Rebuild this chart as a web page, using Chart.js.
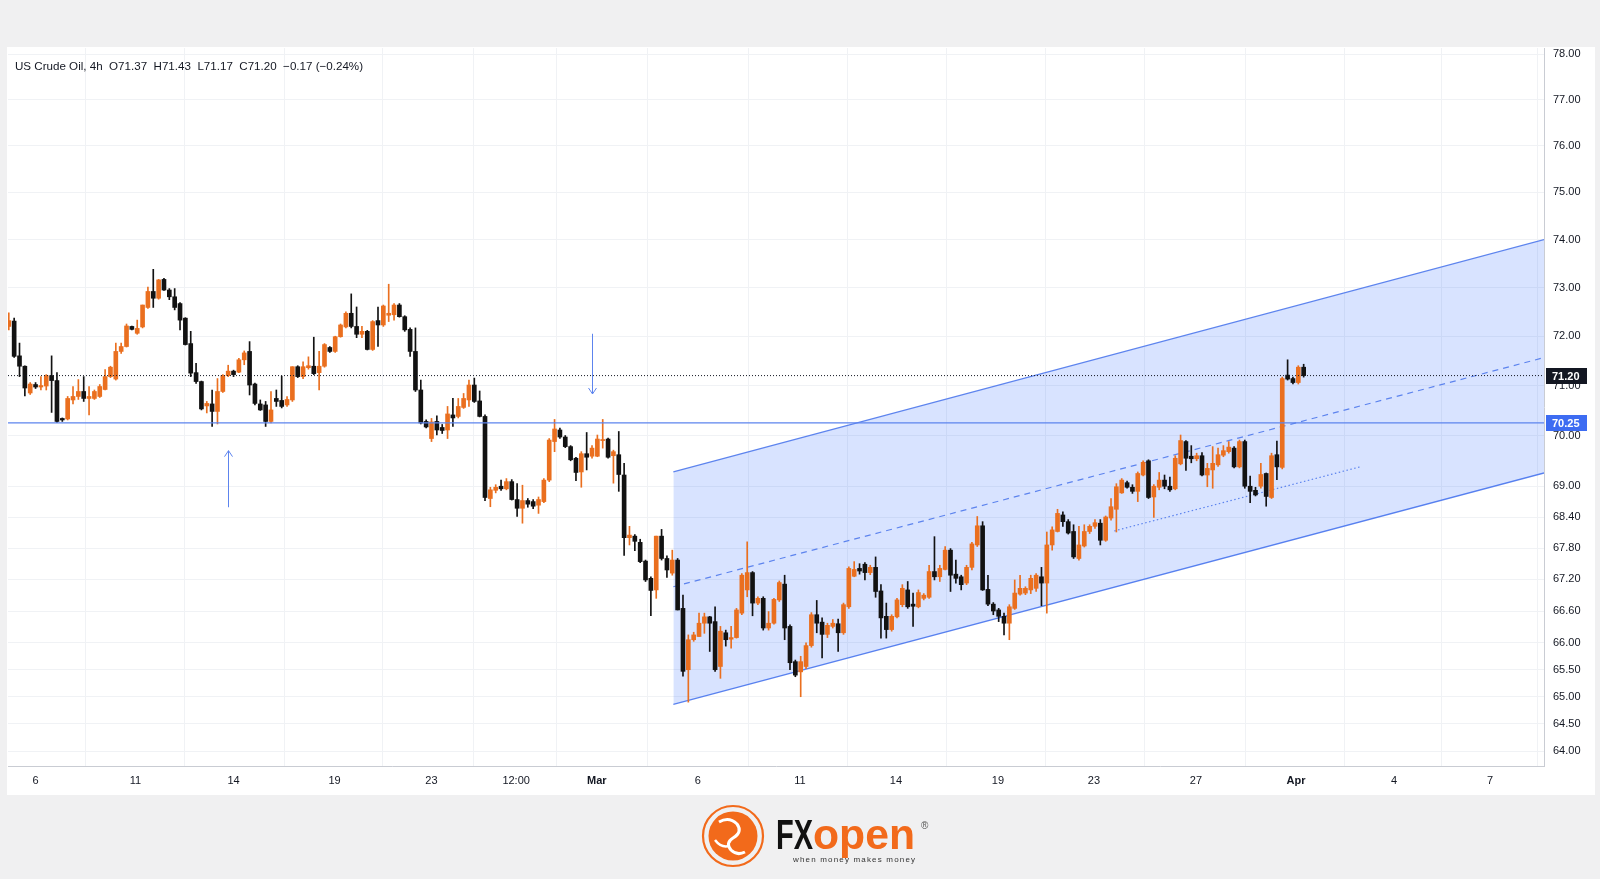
<!DOCTYPE html>
<html>
<head>
<meta charset="utf-8">
<script src="https://cdn.jsdelivr.net/npm/chart.js@4.4.1/dist/chart.umd.min.js"></script>
<style>
  html, body { margin: 0; padding: 0; width: 1600px; height: 879px; overflow: hidden; background: #f0f0f1; }
  #panel { position: absolute; left: 7px; top: 47px; width: 1588px; height: 748px; background: #ffffff; }
  #chart { position: absolute; left: 0; top: 0; }
  #title { position: absolute; left: 15px; top: 59px; font: 11.6px "Liberation Sans", Arial, sans-serif; color: #131722; white-space: pre; }
  #logo { position: absolute; left: 695px; top: 800px; }
</style>
</head>
<body>
<div id="panel"></div>
<canvas id="chart" width="1600" height="879"></canvas>
<div id="title">US Crude Oil, 4h  O71.37  H71.43  L71.17  C71.20  −0.17 (−0.24%)</div>
<svg id="logo" width="250" height="79" viewBox="0 0 250 79">
  <circle cx="38" cy="36" r="30" fill="none" stroke="#f26a1b" stroke-width="2.2"/>
  <circle cx="38" cy="36" r="24.5" fill="#f26a1b"/>
  <path d="M24 22 q10 -6 18 2 q6 8 -4 14 q-8 5 -2 12 q6 6 14 2" fill="none" stroke="#fff" stroke-width="3"/>
  <path d="M20 40 q6 8 14 6" fill="none" stroke="#fff" stroke-width="2.5"/>
  <text x="81" y="49" font-family="Liberation Sans, Arial, sans-serif" font-weight="bold" font-size="42" textLength="37" lengthAdjust="spacingAndGlyphs" fill="#111">FX</text>
  <text x="118" y="49" font-family="Liberation Sans, Arial, sans-serif" font-weight="bold" font-size="42" textLength="102" lengthAdjust="spacingAndGlyphs" fill="#f26a1b">open</text>
  <text x="226" y="29" font-family="Liberation Sans, Arial, sans-serif" font-size="10" fill="#555">®</text>
  <text x="98" y="62" font-family="Liberation Sans, Arial, sans-serif" font-size="8" textLength="122" lengthAdjust="spacing" fill="#333">when money   makes money</text>
</svg>
<script>
// ---- data (4h candles, oldest first) ----
const openP = [72.20,72.31,71.60,71.39,70.85,71.02,70.97,70.99,71.20,71.10,70.34,70.33,70.71,70.78,70.88,70.74,70.74,70.78,70.92,71.18,
  71.13,71.69,71.79,72.20,72.06,72.19,72.59,72.92,72.78,73.17,72.95,72.81,72.67,72.37,71.85,71.26,71.08,70.59,70.63,70.48,
  70.88,71.20,71.29,71.27,71.52,71.69,71.03,70.63,70.61,70.28,70.74,70.70,70.61,70.71,71.38,71.18,71.36,71.39,71.26,71.39,
  71.77,71.69,71.99,72.19,72.47,72.20,72.04,72.10,71.73,72.32,72.23,72.43,72.44,72.64,72.40,72.14,71.69,70.91,70.28,69.94,
  70.28,70.16,70.11,70.41,70.38,70.56,70.71,71.01,70.69,70.38,68.76,68.92,69.00,68.95,69.09,68.74,68.57,68.72,68.70,68.63,
  68.70,69.12,69.88,70.11,69.97,69.78,69.55,69.28,69.64,69.59,69.59,69.90,69.93,69.60,69.62,69.22,68.00,68.03,67.91,67.55,
  67.22,67.00,68.03,67.60,67.32,67.57,66.65,65.50,66.06,66.12,66.37,66.49,66.40,65.56,66.19,66.07,66.10,66.56,67.00,67.33,
  66.75,66.84,66.28,66.37,66.81,67.11,66.31,65.65,65.46,65.56,65.95,66.53,66.39,66.16,66.31,66.36,66.19,66.68,67.26,67.41,
  67.49,67.33,67.43,66.98,66.50,66.25,66.49,66.72,67.00,66.73,66.68,66.84,66.86,67.35,67.25,67.39,67.76,67.30,67.25,67.13,
  67.43,67.86,68.23,67.01,66.73,66.62,66.50,66.37,66.65,66.92,66.94,67.00,67.03,67.25,67.13,67.86,68.12,68.44,68.31,68.12,
  67.60,67.84,68.12,68.22,68.28,67.95,68.38,68.55,68.87,69.07,68.98,68.90,69.22,69.50,68.79,68.98,69.12,69.00,68.95,69.44,
  69.88,69.59,69.54,69.60,69.22,69.32,69.42,69.61,69.68,69.75,69.38,69.88,69.00,68.92,69.00,69.25,68.78,69.62,69.37,71.21,
  71.14,71.06,71.37];
const highP = [72.48,72.37,71.86,71.40,71.06,71.06,71.18,71.22,71.60,71.26,70.35,70.78,70.98,71.12,71.18,70.98,70.91,71.02,71.32,71.39,
  71.86,71.86,72.25,72.21,72.33,72.64,73.01,73.38,73.17,73.19,72.98,72.98,72.69,72.38,72.10,71.45,71.09,70.68,70.91,71.14,
  71.22,71.41,71.31,71.55,71.70,71.89,71.05,70.71,70.68,70.88,70.91,71.19,70.78,71.38,71.40,71.48,71.58,71.98,71.69,71.85,
  71.79,72.00,72.25,72.50,72.87,72.60,72.20,72.12,72.32,72.60,72.64,73.07,72.67,72.67,72.42,72.17,72.17,71.11,70.31,70.34,
  70.39,70.22,70.58,70.74,70.74,70.84,71.11,71.15,70.89,70.41,68.98,69.03,69.12,69.15,69.13,69.05,69.02,68.76,68.74,68.79,
  69.15,69.94,70.32,70.15,70.00,69.80,69.57,69.68,70.06,69.80,70.01,70.32,69.95,69.71,70.08,69.45,68.22,68.06,67.97,67.57,
  67.25,68.03,68.16,67.65,67.76,67.60,66.90,66.15,66.20,66.56,66.56,66.50,66.68,66.31,66.24,66.31,66.65,67.31,67.92,67.35,
  66.87,66.87,66.59,66.84,67.17,67.28,66.34,65.68,65.75,66.00,66.57,66.80,66.47,66.37,66.44,66.45,66.75,67.44,67.54,67.50,
  67.52,67.47,67.63,67.10,66.75,66.53,66.84,67.10,67.16,66.94,67.00,66.93,67.47,68.02,67.47,67.83,67.79,67.57,67.28,67.47,
  67.91,68.41,68.31,67.28,66.76,66.65,66.56,66.72,67.19,67.28,67.06,67.28,67.31,67.43,68.11,68.21,68.55,68.50,68.35,68.25,
  68.22,68.25,68.25,68.35,68.35,68.42,68.76,69.05,69.15,69.10,69.03,69.28,69.50,69.52,69.03,69.27,69.22,69.18,69.60,70.01,
  69.90,69.80,69.65,69.66,69.45,69.78,69.75,69.80,69.88,69.78,69.91,69.91,69.20,68.98,69.45,69.26,69.65,69.89,71.17,71.52,
  71.17,71.40,71.43];
const lowP = [72.13,71.57,71.18,70.79,70.82,70.94,70.91,70.91,70.46,70.26,70.28,70.31,70.63,70.72,70.68,70.41,70.72,70.76,70.91,71.16,
  71.11,71.65,71.78,72.13,72.04,72.17,72.57,72.59,72.76,72.94,72.75,72.54,72.13,71.82,71.18,71.04,70.51,70.45,70.18,70.23,
  70.86,71.18,71.18,71.26,71.42,70.81,70.61,70.50,70.18,70.25,70.58,70.55,70.58,70.68,71.16,71.14,71.33,71.22,70.91,71.37,
  71.67,71.67,71.98,72.17,72.17,71.97,71.97,71.72,71.71,71.79,72.20,72.30,72.33,72.39,72.10,71.59,70.88,70.23,70.15,69.88,
  70.01,70.04,69.94,70.18,70.35,70.54,70.58,70.66,70.37,68.72,68.60,68.87,68.92,68.93,68.73,68.41,68.28,68.59,68.56,68.47,
  68.68,69.09,69.68,69.94,69.76,69.50,69.11,68.98,69.32,69.55,69.58,69.75,69.55,69.06,68.90,67.66,67.86,67.75,67.52,67.16,
  66.51,66.84,67.57,67.24,67.28,66.62,65.38,64.90,66.03,66.12,66.18,65.84,65.47,65.34,65.94,65.90,66.09,66.53,66.87,66.51,
  66.72,66.24,66.24,66.35,66.78,66.06,65.50,65.37,65.00,65.52,65.92,66.19,65.72,66.10,66.28,65.84,66.16,66.65,67.25,67.30,
  67.19,67.29,66.86,66.09,66.09,66.22,66.47,66.68,66.65,66.31,66.66,66.81,66.84,67.19,67.16,67.38,66.97,67.13,67.00,67.10,
  67.38,67.83,66.99,66.70,66.53,66.40,66.15,66.06,66.63,66.90,66.91,66.93,66.97,66.70,66.56,67.76,68.11,68.22,68.07,67.60,
  67.57,67.82,68.08,68.18,67.86,67.93,68.34,68.11,68.86,68.96,68.86,68.70,69.20,68.76,68.39,68.93,68.95,68.90,68.93,69.42,
  69.31,69.46,69.50,69.20,68.99,68.96,69.39,69.58,69.65,69.36,69.36,68.96,68.68,68.81,68.96,68.61,68.76,69.13,69.34,71.11,
  71.03,71.03,71.17];
const closeP = [72.32,71.59,71.39,70.95,71.03,70.97,71.00,71.20,71.10,70.28,70.31,70.74,70.78,70.88,70.74,70.78,70.88,70.98,71.18,71.37,
  71.69,71.79,72.21,72.14,72.16,72.64,72.92,72.78,73.16,72.95,72.81,72.59,72.33,71.83,71.25,71.08,70.53,70.64,70.48,70.88,
  71.20,71.29,71.22,71.52,71.66,71.01,70.64,70.51,70.28,70.51,70.68,70.58,70.72,71.38,71.18,71.38,71.40,71.24,71.39,71.83,
  71.69,71.99,72.23,72.47,72.20,72.04,72.10,71.73,72.30,72.23,72.62,72.47,72.64,72.40,72.13,71.69,70.91,70.25,70.17,70.27,
  70.11,70.10,70.43,70.35,70.58,70.74,71.01,70.68,70.38,68.78,68.93,68.98,68.95,69.09,68.74,68.57,68.72,68.65,68.61,68.74,
  69.12,69.91,70.13,69.97,69.78,69.52,69.27,69.64,69.57,69.75,69.93,69.92,69.57,69.68,69.23,68.00,68.05,67.93,67.54,67.19,
  66.99,68.03,67.60,67.38,67.57,66.62,65.47,66.06,66.15,66.37,66.49,66.37,65.50,66.22,66.06,66.10,66.62,67.28,67.33,66.75,
  66.84,66.28,66.37,66.82,67.14,66.28,65.63,65.40,65.65,65.95,66.53,66.37,66.16,66.33,66.37,66.19,66.72,67.41,67.39,67.36,
  67.33,67.43,66.97,66.47,66.25,66.50,66.81,67.03,66.68,66.69,66.95,66.90,67.35,67.25,67.41,67.76,67.28,67.22,67.10,67.43,
  67.88,68.23,67.00,66.73,66.60,66.50,66.37,66.68,66.94,67.03,67.03,67.22,67.28,67.13,67.86,68.15,68.47,68.31,68.09,67.63,
  67.86,68.12,68.22,68.29,67.95,68.40,68.60,68.99,69.12,68.98,68.90,69.25,69.47,68.78,69.00,69.12,69.00,68.93,69.55,69.90,
  69.55,69.54,69.60,69.22,69.35,69.45,69.62,69.70,69.77,69.38,69.88,69.00,68.90,68.83,69.23,68.80,69.60,69.38,71.14,71.13,
  71.06,71.37,71.20];

const xTickPos = [4.99, 23.68, 42.0, 60.88, 78.99, 94.82, 109.9, 128.79, 147.85, 165.8, 184.86, 202.8, 221.87, 240.56, 258.88, 276.82];
const xTickLabels = ['6', '11', '14', '19', '23', '12:00', 'Mar', '6', '11', '14', '19', '23', '27', 'Apr', '4', '7'];
const yTicks = [64, 64.5, 65, 65.5, 66, 66.6, 67.2, 67.8, 68.4, 69, 70, 71, 72, 73, 74, 75, 76, 77, 78];

// drawings
const channelX = [124.2, 286.92];
const channelUpper = [69.28, 74.0];
const channelLower = [64.86, 69.26];
const channelMidX = [124.2, 286.4];
const channelMid = [67.06, 71.55];
const trendX = [206.6, 252.9];
const trendY = [68.13, 69.39];
const supportLevel = 70.25;
const lastPrice = 71.20;
const arrowX = [41.05, 108.93];
const arrowFrom = [68.59, 72.05];
const arrowTo = [69.70, 70.83];

const X_MIN = -0.15, X_MAX = 286.92;
const Y_MIN = 63.735, Y_MAX = 78.135;

const UP = "#ea6f1f";
const DOWN = "#121212";
const BLUE = "#5d84ee";
const AXIS_FONT = "'Liberation Sans', Arial, sans-serif";

// ---- datasets ----
const wickData = highP.map((h, i) => ({ x: i, y: [lowP[i], h] }));
const bodyData = openP.map((o, i) => ({ x: i, y: [o, closeP[i]] }));
const candleColor = (ctx) => (closeP[ctx.dataIndex] >= openP[ctx.dataIndex] ? UP : DOWN);

function seg(xs, ys) {
  return xs.map((x, i) => ({ x, y: ys[i] }));
}

const overlayPlugin = {
  id: "overlay",
  afterDatasetsDraw(chart) {
    const { ctx, scales } = chart;
    const x = scales.x, y = scales.y;
    ctx.save();
    ctx.strokeStyle = BLUE;
    ctx.lineWidth = 1;
    arrowX.forEach((ax, i) => {
      const px = Math.round(x.getPixelForValue(ax)) + 0.5;
      const y1 = y.getPixelForValue(arrowFrom[i]);
      const y2 = y.getPixelForValue(arrowTo[i]);
      const dir = y2 < y1 ? 1 : -1;
      ctx.beginPath();
      ctx.moveTo(px, y1);
      ctx.lineTo(px, y2);
      ctx.moveTo(px - 4, y2 + dir * 6);
      ctx.lineTo(px, y2);
      ctx.lineTo(px + 4, y2 + dir * 6);
      ctx.stroke();
    });
    ctx.restore();
  },
  afterDraw(chart) {
    const { ctx, chartArea, scales } = chart;
    const y = scales.y;
    const tags = [
      { v: lastPrice, bg: "#131722" },
      { v: supportLevel, bg: "#3d6cf2" },
    ];
    ctx.save();
    tags.forEach((t) => {
      const py = Math.round(y.getPixelForValue(t.v));
      ctx.fillStyle = t.bg;
      ctx.fillRect(chartArea.right + 2, py - 8, 41, 16);
      ctx.fillStyle = "#ffffff";
      ctx.font = "bold 11px " + AXIS_FONT;
      ctx.textBaseline = "middle";
      ctx.textAlign = "left";
      ctx.fillText(t.v.toFixed(2), chartArea.right + 8, py + 0.5);
    });
    ctx.restore();
  },
};

new Chart(document.getElementById("chart"), {
  type: "bar",
  data: {
    datasets: [
      {
        type: "line",
        data: seg(channelX, channelUpper),
        borderColor: BLUE,
        borderWidth: 1.3,
        backgroundColor: "rgba(41, 98, 255, 0.18)",
        fill: "+1",
        pointRadius: 0,
        order: 10,
      },
      {
        type: "line",
        data: seg(channelX, channelLower),
        borderColor: BLUE,
        borderWidth: 1.3,
        fill: false,
        pointRadius: 0,
        order: 10,
      },
      {
        type: "line",
        data: seg(channelMidX, channelMid),
        borderColor: BLUE,
        borderWidth: 1.2,
        borderDash: [6, 5],
        fill: false,
        pointRadius: 0,
        order: 9,
      },
      {
        type: "line",
        data: seg(trendX, trendY),
        borderColor: BLUE,
        borderWidth: 1.2,
        borderDash: [1.5, 2.5],
        fill: false,
        pointRadius: 0,
        order: 9,
      },
      {
        type: "bar",
        data: wickData,
        backgroundColor: candleColor,
        barThickness: 1,
        grouped: false,
        order: 2,
      },
      {
        type: "bar",
        data: bodyData,
        backgroundColor: candleColor,
        barThickness: 4,
        minBarLength: 1,
        grouped: false,
        order: 1,
      },
      {
        type: "line",
        data: seg([X_MIN, X_MAX], [supportLevel, supportLevel]),
        borderColor: BLUE,
        borderWidth: 1.3,
        fill: false,
        pointRadius: 0,
        order: 0,
      },
      {
        type: "line",
        data: seg([X_MIN, X_MAX], [lastPrice, lastPrice]),
        borderColor: "#131722",
        borderWidth: 1,
        borderDash: [1, 2],
        fill: false,
        pointRadius: 0,
        order: 0,
      },
    ],
  },
  options: {
    responsive: false,
    animation: false,
    devicePixelRatio: 1,
    layout: { padding: { left: 8, top: 48, right: 0, bottom: 85 } },
    plugins: {
      legend: { display: false },
      tooltip: { enabled: false },
    },
    scales: {
      x: {
        type: "linear",
        min: X_MIN,
        max: X_MAX,
        offset: false,
        afterBuildTicks: (scale) => {
          scale.ticks = xTickPos.map((v) => ({ value: v }));
        },
        afterFit: (scale) => {
          scale.height = 28;
        },
        ticks: {
          autoSkip: false,
          maxRotation: 0,
          padding: 8,
          color: "#131722",
          font: (ctx) => ({
            family: AXIS_FONT,
            size: 11,
            weight: ctx.tick && /[A-Za-z]/.test(ctx.tick.label) ? "bold" : "normal",
          }),
          callback: (v, i) => xTickLabels[i],
        },
        grid: { color: "#f0f2f5", drawTicks: false },
        border: { display: true, color: "#c9ccd3" },
      },
      y: {
        type: "logarithmic",
        position: "right",
        min: Y_MIN,
        max: Y_MAX,
        afterBuildTicks: (scale) => {
          scale.ticks = yTicks.map((v) => ({ value: v }));
        },
        afterFit: (scale) => {
          scale.width = 56;
        },
        ticks: {
          padding: 9,
          color: "#131722",
          font: { family: AXIS_FONT, size: 11 },
          callback: (v) => Number(v).toFixed(2),
        },
        grid: { color: "#f0f2f5", drawTicks: false },
        border: { display: true, color: "#c9ccd3" },
      },
    },
  },
  plugins: [overlayPlugin],
});
</script>
</body>
</html>
